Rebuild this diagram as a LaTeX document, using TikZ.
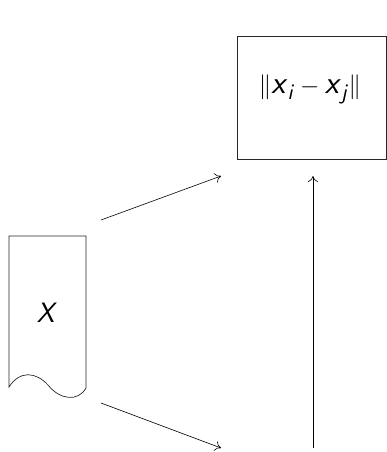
\documentclass[tikz,border=0pt]{standalone}
\usepackage{amsmath}
\usepackage{fontspec}
\usetikzlibrary{arrows.meta}
\newcommand{\sv}[1]{\textsf{\textit{#1}}}
\tikzset{
  conn/.style={-{To[length=6pt,width=10pt]}, line width=0.6pt},
  lbl/.style={font=\fontsize{28}{34}\selectfont},
  biglbl/.style={font=\fontsize{32}{38}\selectfont},
  outline/.style={line width=0.7pt, draw=black!85}
}
\begin{document}
\begin{tikzpicture}[x=1pt,y=-1pt]
\useasboundingbox (0,0) rectangle (387,452);
% box
\node[draw, outline, minimum width=149pt, minimum height=123pt, inner sep=0pt] (box) at (311.5,98) {};
\node[biglbl, inner sep=0pt] (norm) at (310,89) {$\|\sv{x}_{\sv{i}} - \sv{x}_{\sv{j}}\|$};
% document
\draw[outline] (86,388) -- (86,236) -- (9,236) -- (9,387)
  .. controls (20,370) and (36,372) .. (48,385)
  .. controls (60,400) and (78,402) .. (86,388);
\node[lbl] (doc) at (47,313) {\sv{X}};
% connectors
\coordinate (a1s) at (101,220);
\coordinate (a1e) at (221,176);
\coordinate (a2s) at (101,403);
\coordinate (a2e) at (221,448);
\coordinate (vs) at (313,448);
\coordinate (ve) at (313,176);
\draw[conn] (a1s) -- (a1e);
\draw[conn] (a2s) -- (a2e);
\draw[conn] (vs) -- (ve);
\end{tikzpicture}
\end{document}
